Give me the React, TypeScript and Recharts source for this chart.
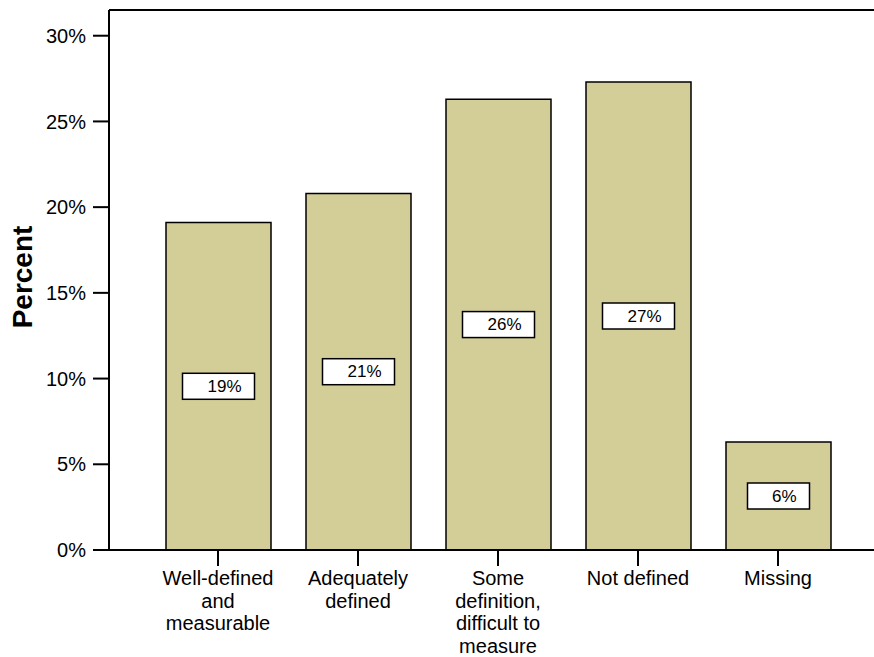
import React from 'react';
import { BarChart, Bar, XAxis, YAxis, LabelList, ReferenceLine } from 'recharts';

const categories = [
  'Well-defined\nand\nmeasurable',
  'Adequately\ndefined',
  'Some\ndefinition,\ndifficult to\nmeasure',
  'Not defined',
  'Missing',
];
const percents = [19.1, 20.8, 26.3, 27.3, 6.3];
const yTicks = [0, 5, 10, 15, 20, 25, 30];

const data = categories.map((c, i) => ({ category: c, percent: percents[i] }));

const FONT = "Arial, 'Liberation Sans', sans-serif";

const XTick = (props: any) => {
  const { x, y, payload } = props;
  const lines = String(payload.value).split('\n');
  return (
    <text x={x} y={y} textAnchor="middle" fontFamily={FONT} fontSize={20} fill="#000">
      {lines.map((l, i) => (
        <tspan key={i} x={x} dy={i === 0 ? 19 : 22.5}>
          {l}
        </tspan>
      ))}
    </text>
  );
};

const BoxLabel = (props: any) => {
  const { x, y, width, height, value } = props;
  const cx = Number(x) + Number(width) / 2;
  const cy = Number(y) + Number(height) / 2;
  const txt = Math.round(Number(value)) + '%';
  const w = txt.length > 2 ? 72 : 62;
  return (
    <g>
      <rect x={cx - w / 2} y={cy - 13} width={w} height={26} fill="#fff" stroke="#000" strokeWidth={1.5} />
      <text
        x={cx + w / 2 - 13}
        y={cy}
        textAnchor="end"
        dominantBaseline="central"
        fontFamily={FONT}
        fontSize={17}
        fill="#000"
      >
        {txt}
      </text>
    </g>
  );
};

const YLabel = () => (
  <text
    x={32}
    y={277}
    transform="rotate(-90 32 277)"
    textAnchor="middle"
    fontFamily={FONT}
    fontSize={28}
    fontWeight="bold"
    fill="#000"
  >
    Percent
  </text>
);

export default function App() {
  return (
    <div style={{ position: 'absolute', left: 0, top: 0, width: 874, height: 657, background: '#fff' }}>
      <BarChart width={874} height={657} data={data} margin={{ top: 10, right: 0, left: 0, bottom: 0 }}>
        <XAxis
          dataKey="category"
          interval={0}
          height={107}
          padding={{ left: 39, right: 26 }}
          tickSize={16}
          tickMargin={0}
          axisLine={{ stroke: '#000', strokeWidth: 2 }}
          tickLine={{ stroke: '#000', strokeWidth: 2 }}
          tick={<XTick />}
        />
        <YAxis
          width={109}
          domain={[0, 31.5]}
          ticks={yTicks}
          allowDataOverflow
          tickFormatter={(v: number) => v + '%'}
          tickSize={16}
          tickMargin={7}
          axisLine={{ stroke: '#000', strokeWidth: 2 }}
          tickLine={{ stroke: '#000', strokeWidth: 2 }}
          tick={{ fill: '#000', fontSize: 20, fontFamily: FONT }}
          label={<YLabel />}
        />
        <ReferenceLine y={31.5} stroke="#000" strokeWidth={2} />
        <Bar dataKey="percent" barSize={105} fill="#D3CD98" stroke="#000" strokeWidth={1.5} isAnimationActive={false}>
          <LabelList dataKey="percent" content={<BoxLabel />} />
        </Bar>
      </BarChart>
    </div>
  );
}
